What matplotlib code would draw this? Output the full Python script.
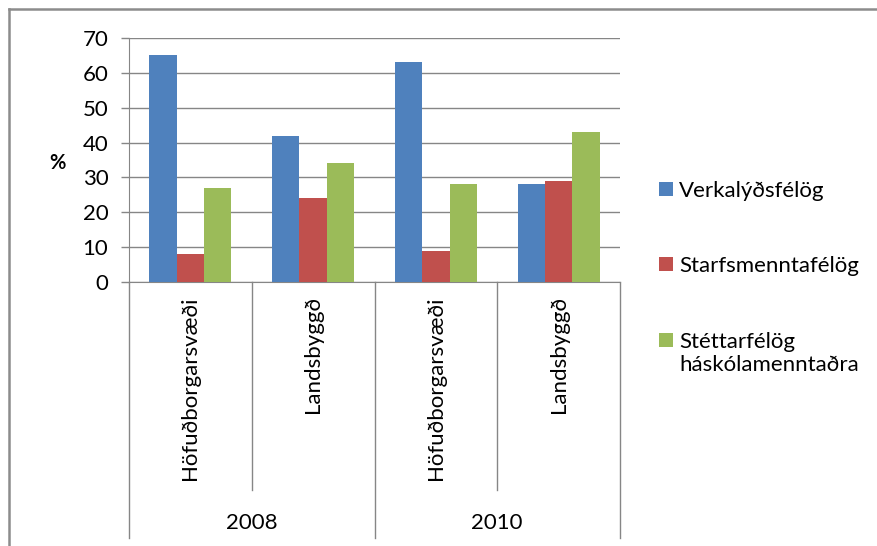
#!/usr/bin/env python3
"""Grouped bar chart: union membership share by region, 2008 vs 2010."""

import matplotlib
matplotlib.use("Agg")
import matplotlib.pyplot as plt
from matplotlib.patches import Rectangle
from matplotlib.lines import Line2D
import numpy as np

# ---------------------------------------------------------------------------
# Data
# ---------------------------------------------------------------------------

regions = ["Höfuðborgarsvæði", "Landsbyggð", "Höfuðborgarsvæði", "Landsbyggð"]
years = ["2008", "2010"]
series_names = ["Verkalýðsfélög", "Starfsmenntafélög", "Stéttarfélög\nháskólamenntaðra"]
verkalydsfelog = [65, 42, 63, 28]
starfsmenntafelog = [8, 24, 8.8, 29]
stettarfelog_hask = [27, 34, 28, 43]

yticks = [0, 10, 20, 30, 40, 50, 60, 70]

COLORS = ["#4F81BD", "#C0504D", "#9BBB59"]
GRID = "#868686"
TEXT = "#000000"
FONT = "Lato"
FS = 16

W, H = 878, 546
DPI = 100

fig = plt.figure(figsize=(W / DPI, H / DPI), dpi=DPI)
fig.patch.set_facecolor("white")


def px(x, y):
    """Pixel (top-left origin) -> figure fraction."""
    return x / W, 1 - y / H


# outer chart frame (right/bottom edges fall off the picture)
fig.add_artist(Line2D([9 / W, 9 / W], [0, 1 - 9 / H], transform=fig.transFigure,
                      color="#8c8c8c", lw=1.8))
fig.add_artist(Line2D([9 / W, 1], [1 - 9 / H, 1 - 9 / H], transform=fig.transFigure,
                      color="#8c8c8c", lw=1.8))

# plot area
left, top, right, bottom = 129, 38, 620, 282
ax = fig.add_axes([left / W, 1 - bottom / H, (right - left) / W, (bottom - top) / H])

x = np.arange(len(regions))
bw = 1 / 4.5
for i, (vals, c) in enumerate(zip([verkalydsfelog, starfsmenntafelog, stettarfelog_hask], COLORS)):
    ax.bar(x + (i - 1) * bw, vals, bw, color=c, edgecolor="none", zorder=3)

ax.set_xlim(-0.5, len(regions) - 0.5)
ax.set_ylim(0, 70)
ax.set_yticks(yticks)
ax.set_yticklabels([str(v) for v in yticks], fontsize=FS, family=FONT, color=TEXT)
ax.tick_params(axis="y", length=5.8, width=1, color=GRID, pad=9)
ax.set_xticks([])
ax.grid(axis="y", color=GRID, lw=1, zorder=0)
for s in ("top", "right"):
    ax.spines[s].set_visible(False)
ax.spines["left"].set_color(GRID)
ax.spines["bottom"].set_color(GRID)

fig.text(*px(57, 163), "%", ha="center", va="center", fontsize=14.5,
         fontweight="bold", family=FONT)

# two-level category axis
trans = ax.get_xaxis_transform()
inner_y = (bottom - 490) / (bottom - top)
outer_y = (bottom - 538) / (bottom - top)
for xv in [-0.5, 1.5, 3.5]:
    ax.add_line(Line2D([xv, xv], [0, outer_y], transform=trans, color=GRID,
                       lw=1, clip_on=False))
for xv in [0.5, 2.5]:
    ax.add_line(Line2D([xv, xv], [0, inner_y], transform=trans, color=GRID,
                       lw=1, clip_on=False))

label_top = (bottom - 296) / (bottom - top)
for xi, name in zip(x, regions):
    ax.text(xi, label_top, name, transform=trans, rotation=90, ha="center",
            va="top", fontsize=FS, family=FONT, color=TEXT)

year_y = (bottom - 523) / (bottom - top)
for k, yr in enumerate(years):
    ax.text(2 * k + 0.5, year_y, yr, transform=trans, ha="center", va="center",
            fontsize=FS, family=FONT, color=TEXT)

# legend, drawn by hand so the swatch sits on the first text line
legend_rows = [189, 264, 340]
for name, c, yy in zip(series_names, COLORS, legend_rows):
    fx, fy = px(659, yy + 7)
    fig.add_artist(Rectangle((fx, fy), 14 / W, 14 / H, transform=fig.transFigure,
                             facecolor=c, edgecolor="none"))
    for j, line in enumerate(name.split("\n")):
        fig.text(*px(679, yy + 23 * j), line, ha="left", va="center_baseline",
                 fontsize=FS, family=FONT, color=TEXT)

fig.savefig("out.png", dpi=DPI, facecolor="white")
